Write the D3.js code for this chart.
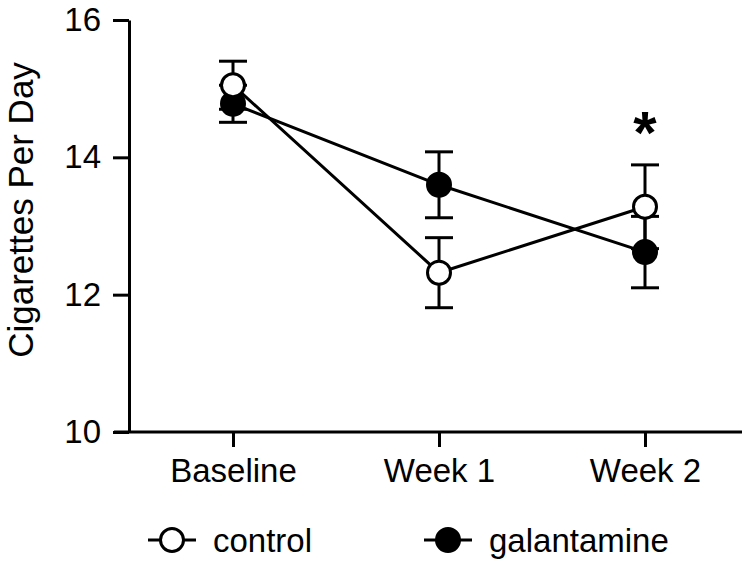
<!DOCTYPE html>
<html>
<head>
<meta charset="utf-8">
<script src="https://cdn.jsdelivr.net/npm/d3@7"></script>
<style>
  body { margin: 0; background: #fff; }
  text { font-family: "Liberation Sans", Arial, sans-serif; fill: #000; }
</style>
</head>
<body>
<svg id="canvas" width="749" height="564"></svg>
<script>
// chart data
let weeks = ['Baseline', 'Week 1', 'Week 2']
let controlMean = [15.05, 12.32, 13.28]
let controlErr = [0.35, 0.51, 0.61]
let galMean = [14.78, 13.60, 12.62]
let galErr = [0.27, 0.48, 0.52]
let yTicks = [10, 12, 14, 16]
let starAt = ['Week 2']

let canvas = d3.select('#canvas')

let xScale = d3.scalePoint().domain(weeks).range([130, 748]).padding(0.5)
let yScale = d3.scaleLinear().domain([10, 16]).range([432, 20])

// y axis
let yAxis = d3.axisLeft(yScale).tickValues(yTicks).tickFormat(d3.format('d'))
    .tickSize(16).tickPadding(12).tickSizeOuter(0)
let yG = canvas.append('g').attr('transform', 'translate(129,0)').call(yAxis)
yG.select('.domain').attr('stroke-width', 3)
yG.selectAll('.tick line').attr('stroke-width', 3)
yG.selectAll('.tick text').style('font-size', '33px')

// x axis
let xAxis = d3.axisBottom(xScale).tickSize(15).tickPadding(12).tickSizeOuter(0)
let xG = canvas.append('g').attr('transform', 'translate(0,432)').call(xAxis)
xG.select('.domain').attr('d', 'M114,0H742').attr('stroke-width', 3)
xG.selectAll('.tick line').attr('stroke-width', 3)
xG.selectAll('.tick text').style('font-size', '33px')

canvas.append('text')
    .attr('transform', 'translate(33,210) rotate(-90)')
    .attr('text-anchor', 'middle')
    .style('font-size', '35px')
    .text('Cigarettes Per Day')

let series = [
    {name: 'control', mean: controlMean, err: controlErr, fill: '#fff'},
    {name: 'galantamine', mean: galMean, err: galErr, fill: '#000'}
]

let line = d3.line()
    .x((d, i) => xScale(weeks[i]))
    .y((d) => yScale(d))

// lines first
series.forEach((s) => {
    canvas.append('path')
        .attr('d', line(s.mean))
        .attr('fill', 'none')
        .attr('stroke', '#000')
        .attr('stroke-width', 3)
})

// error bars
series.forEach((s) => {
    let g = canvas.append('g')
    s.mean.forEach((m, i) => {
        let x = xScale(weeks[i])
        let y1 = yScale(m + s.err[i])
        let y2 = yScale(m - s.err[i])
        g.append('line').attr('x1', x).attr('x2', x).attr('y1', y1).attr('y2', y2)
        g.append('line').attr('x1', x - 14).attr('x2', x + 14).attr('y1', y1).attr('y2', y1)
        g.append('line').attr('x1', x - 14).attr('x2', x + 14).attr('y1', y2).attr('y2', y2)
    })
    g.selectAll('line').attr('stroke', '#000').attr('stroke-width', 3)
})

// markers: galantamine below, control on top
;[series[1], series[0]].forEach((s) => {
    canvas.selectAll(null)
        .data(s.mean)
        .enter()
        .append('circle')
        .attr('cx', (d, i) => xScale(weeks[i]))
        .attr('cy', (d) => yScale(d))
        .attr('r', 11.5)
        .attr('fill', s.fill)
        .attr('stroke', '#000')
        .attr('stroke-width', 3)
})

// significance star
starAt.forEach((w) => {
    let i = weeks.indexOf(w)
    canvas.append('text')
        .attr('x', xScale(w))
        .attr('y', yScale(controlMean[i] + controlErr[i]) - 12)
        .attr('text-anchor', 'middle')
        .style('font-size', '60px')
        .style('font-weight', 'bold')
        .text('*')
})

// legend
let legendX = [172, 448]
series.forEach((s, i) => {
    let g = canvas.append('g').attr('transform', 'translate(' + legendX[i] + ',540)')
    g.append('line').attr('x1', -24).attr('x2', 24).attr('stroke', '#000').attr('stroke-width', 3)
    g.append('circle').attr('r', 11.5).attr('fill', s.fill).attr('stroke', '#000').attr('stroke-width', 3)
    g.append('text').attr('x', 41).attr('y', 12).style('font-size', '33px').text(s.name)
})
</script>
</body>
</html>
